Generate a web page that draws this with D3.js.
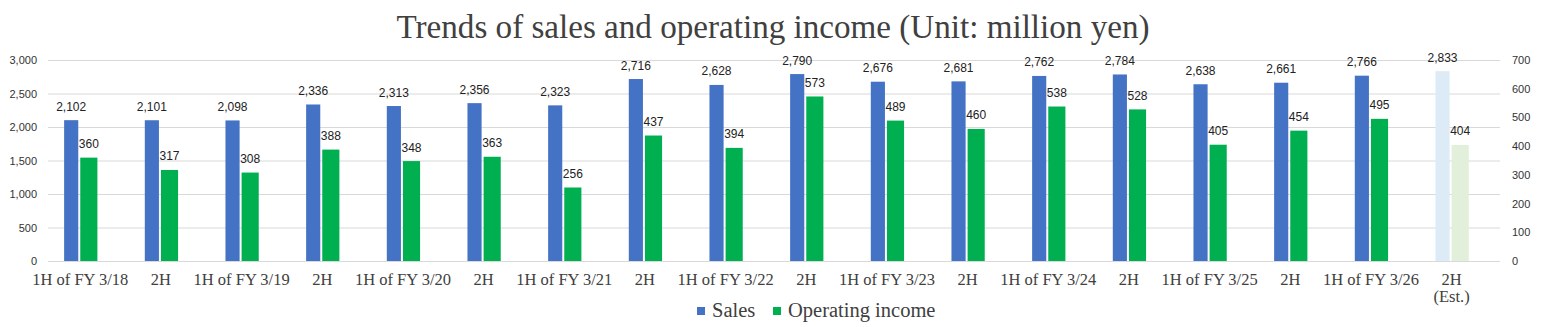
<!DOCTYPE html>
<html>
<head>
<meta charset="utf-8">
<script src="https://cdn.jsdelivr.net/npm/d3@7"></script>
<style>
  html, body { margin: 0; padding: 0; background: #fff; }
  svg { display: block; }
</style>
</head>
<body>
<svg id="chart" width="1546" height="327"></svg>
<script>
// ---- data ----
const categories = ["1H of FY 3/18", "2H", "1H of FY 3/19", "2H", "1H of FY 3/20", "2H",
  "1H of FY 3/21", "2H", "1H of FY 3/22", "2H", "1H of FY 3/23", "2H",
  "1H of FY 3/24", "2H", "1H of FY 3/25", "2H", "1H of FY 3/26", "2H\n(Est.)"];
const sales = [2102, 2101, 2098, 2336, 2313, 2356, 2323, 2716, 2628, 2790, 2676, 2681, 2762, 2784, 2638, 2661, 2766, 2833];
const operatingIncome = [360, 317, 308, 388, 348, 363, 256, 437, 394, 573, 489, 460, 538, 528, 405, 454, 495, 404];
const estimated = [false, false, false, false, false, false, false, false, false, false, false, false, false, false, false, false, false, true];
const leftTicks = [0, 500, 1000, 1500, 2000, 2500, 3000];
const rightTicks = [0, 100, 200, 300, 400, 500, 600, 700];
const seriesNames = ["Sales", "Operating income"];
const titleText = "Trends of sales and operating income (Unit: million yen)";

(function () {
// ---- layout ----
const pL = 48, pR = 1500, pT = 60, pB = 261;
const colors = { sales: "#4472C4", op: "#00B050", salesEst: "#DDEBF7", opEst: "#E2EFDA" };
const textColor = "#404040";

const svg = d3.select("#chart");

const x = d3.scaleBand().domain(d3.range(categories.length)).range([pL, pR])
  .paddingInner(0.4).paddingOuter(0.2);
// Excel-like slots: sales, operating income, and an empty third slot
const inner = d3.scaleBand().domain(["sales", "op", "blank"]).range([0, x.bandwidth()]);
const yL = d3.scaleLinear().domain([0, 3000]).range([pB, pT]);
const yR = d3.scaleLinear().domain([0, 700]).range([pB, pT]);

// gridlines
const grid = svg.append("g").attr("transform", `translate(${pL},0)`)
  .call(d3.axisLeft(yL).tickValues(leftTicks).tickSize(-(pR - pL)).tickFormat(""));
grid.select(".domain").remove();
grid.selectAll("line").attr("stroke", "#D9D9D9").attr("stroke-width", 1);

// left axis
const ax = svg.append("g").attr("transform", `translate(${pL},0)`)
  .call(d3.axisLeft(yL).tickValues(leftTicks).tickSize(0).tickPadding(11).tickFormat(d3.format(",")));
ax.select(".domain").remove();
ax.selectAll("text").attr("font-family", "Liberation Sans, Arial, sans-serif")
  .attr("font-size", 11).attr("fill", "#333");

// right axis
const ar = svg.append("g").attr("transform", `translate(${pR},0)`)
  .call(d3.axisRight(yR).tickValues(rightTicks).tickSize(0).tickPadding(12).tickFormat(d3.format(",")));
ar.select(".domain").remove();
ar.selectAll("text").attr("font-family", "Liberation Sans, Arial, sans-serif")
  .attr("font-size", 11).attr("fill", "#333");

// bars
const sw = inner.bandwidth() - 2;
const gw = inner.bandwidth() + 1;
const gBars = svg.append("g");
gBars.selectAll(".s").data(sales).join("rect")
  .attr("x", (d, i) => x(i) + inner("sales"))
  .attr("y", d => yL(d))
  .attr("width", sw)
  .attr("height", d => yL(0) - yL(d))
  .attr("fill", (d, i) => estimated[i] ? colors.salesEst : colors.sales);
gBars.selectAll(".o").data(operatingIncome).join("rect")
  .attr("x", (d, i) => x(i) + inner("op"))
  .attr("y", d => yR(d))
  .attr("width", gw)
  .attr("height", d => yR(0) - yR(d))
  .attr("fill", (d, i) => estimated[i] ? colors.opEst : colors.op);

// data labels
const lblFont = "Liberation Sans, Arial, sans-serif";
gBars.selectAll(".sl").data(sales).join("text")
  .attr("x", (d, i) => x(i) + inner("sales") + sw / 2)
  .attr("y", d => yL(d) - 9.5)
  .attr("text-anchor", "middle")
  .attr("font-family", lblFont).attr("font-size", 12).attr("fill", "#222")
  .text(d => d3.format(",")(d));
gBars.selectAll(".ol").data(operatingIncome).join("text")
  .attr("x", (d, i) => x(i) + inner("op") + gw / 2)
  .attr("y", d => yR(d) - 9.5)
  .attr("text-anchor", "middle")
  .attr("font-family", lblFont).attr("font-size", 12).attr("fill", "#222")
  .text(d => d3.format(",")(d));

// x axis (labels centred under the pair of bars)
const xOffset = inner("op") - x.bandwidth() / 2;
const axX = svg.append("g").attr("transform", `translate(${xOffset},${pB})`)
  .call(d3.axisBottom(x).tickSize(0).tickPadding(0).tickFormat(""));
axX.select(".domain").remove();
axX.selectAll(".tick").each(function (d) {
  const lines = categories[d].split("\n");
  const t = d3.select(this).append("text")
    .attr("y", 24).attr("text-anchor", "middle")
    .attr("font-family", "Liberation Serif, Times New Roman, serif")
    .attr("font-size", 16.5).attr("fill", textColor);
  lines.forEach((ln, k) => t.append("tspan").attr("x", 0).attr("dy", k === 0 ? 0 : 17).text(ln));
});

// title
svg.append("text").attr("x", 773).attr("y", 38).attr("text-anchor", "middle")
  .attr("font-family", "Liberation Serif, Times New Roman, serif")
  .attr("font-size", 33).attr("fill", textColor)
  .attr("textLength", 753).attr("lengthAdjust", "spacingAndGlyphs")
  .text(titleText);

// legend
const legend = svg.append("g");
const legX = [697, 773];
const legColors = [colors.sales, colors.op];
seriesNames.forEach((n, k) => {
  legend.append("rect").attr("x", legX[k]).attr("y", 307).attr("width", 8).attr("height", 8).attr("fill", legColors[k]);
  legend.append("text").attr("x", legX[k] + 15).attr("y", 317)
    .attr("font-family", "Liberation Serif, Times New Roman, serif")
    .attr("font-size", 20.5).attr("fill", textColor).text(n);
});
})();
</script>
</body>
</html>
